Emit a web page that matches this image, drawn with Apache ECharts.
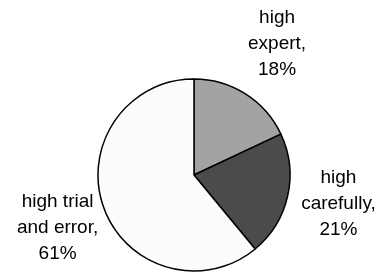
<!DOCTYPE html>
<html>
<head>
<meta charset="utf-8">
<script src="https://cdn.jsdelivr.net/npm/echarts@6/dist/echarts.min.js"></script>
<style>
  html, body { margin: 0; padding: 0; background: #fff; }
  #pie { width: 377px; height: 273px; }
</style>
</head>
<body>
<div id="pie"></div>
<script>
// slices, clockwise from 12 o'clock
const names = ['high\nexpert,', 'high\ncarefully,', 'high trial\nand error,'];
const values = [18, 21, 61];
const colors = ['#a3a3a3', '#4b4b4b', '#fcfcfc'];

const cx = 194, cy = 175, r = 96;
const labelDist = [155, 148, 145];
const labelShiftY = [0, -4, 4];

const total = values.reduce((a, b) => a + b, 0);

const chart = echarts.init(document.getElementById('pie'));
const option = {
    backgroundColor: '#fff',
    animation: false,
    series: [{
        type: 'pie',
        center: [cx, cy],
        radius: r,
        startAngle: 90,
        clockwise: true,
        data: names.map((n, i) => ({
            name: n,
            value: values[i],
            itemStyle: { color: colors[i] }
        })),
        itemStyle: { borderColor: '#000', borderWidth: 1.5 },
        label: {
            position: 'inside',
            formatter: p => p.name + '\n' + Math.round(p.percent) + '%',
            fontFamily: 'Liberation Sans, Arial, sans-serif',
            fontSize: 19,
            lineHeight: 26,
            color: '#000',
            align: 'center',
            overflow: 'none'
        },
        labelLine: { show: false },
        emphasis: { disabled: true },
        // put each label on the slice's mid-angle, Excel style
        labelLayout: function (params) {
            const i = params.dataIndex;
            let before = 0;
            for (let k = 0; k < i; k++) before += values[k];
            const mid = (before + values[i] / 2) / total * Math.PI * 2;
            return {
                x: cx + Math.sin(mid) * labelDist[i],
                y: cy - Math.cos(mid) * labelDist[i] + labelShiftY[i],
                align: 'center',
                verticalAlign: 'middle'
            };
        }
    }]
};
chart.setOption(option);
</script>
</body>
</html>
